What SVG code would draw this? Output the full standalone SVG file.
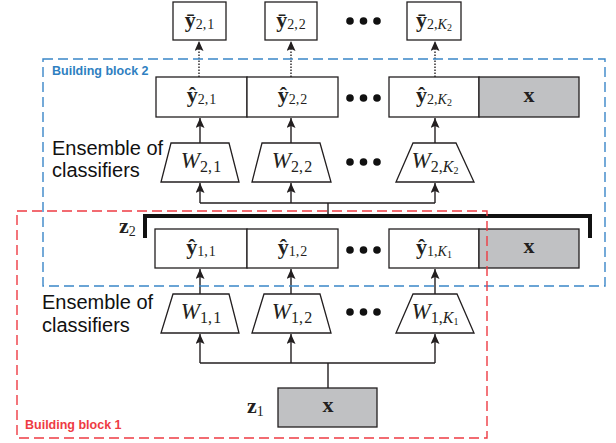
<svg xmlns="http://www.w3.org/2000/svg" width="616" height="443" viewBox="0 0 616 443">
<defs>
<style>
.box{fill:#fff;stroke:#231f20;stroke-width:1.3}
.gray{fill:#c0c1c3;stroke:#231f20;stroke-width:1.3}
.conn{fill:none;stroke:#231f20;stroke-width:1.4}
.dotted{stroke-dasharray:1.4 1.6}
.m{font-family:"Liberation Serif","DejaVu Serif",serif;fill:#231f20}
.yb{font-weight:bold;font-size:22px}
.xb{font-weight:bold;font-size:22px}
.w{font-style:italic;font-size:23px}
.s{font-size:14px;font-style:normal;font-weight:normal}
.sw{font-size:16px;font-style:normal}
.ss{font-size:10px;font-style:normal}
.it{font-style:italic}
.lbl{font-family:"Liberation Sans",Arial,sans-serif;font-size:20px;fill:#111}
.bb{font-family:"Liberation Sans",Arial,sans-serif;font-size:12.5px;font-weight:bold}
.dots circle{fill:#111}
</style>
<marker id="ah" markerUnits="userSpaceOnUse" markerWidth="10" markerHeight="10" refX="10" refY="4.5" orient="auto">
<path d="M0,0 L10,4.5 L0,9 L2,4.5 z" fill="#231f20"/>
</marker>
</defs>
<rect width="616" height="443" fill="#fff"/>

<g id="connectors">
<path class="conn dotted" d="M199,77 V41" marker-end="url(#ah)"/>
<path class="conn dotted" d="M291,77 V41" marker-end="url(#ah)"/>
<path class="conn dotted" d="M435,77 V41" marker-end="url(#ah)"/>
<path class="conn" d="M200,143 V118" marker-end="url(#ah)"/>
<path class="conn" d="M291,143 V118" marker-end="url(#ah)"/>
<path class="conn" d="M435,143 V118" marker-end="url(#ah)"/>
<path class="conn" d="M200,203 V183" marker-end="url(#ah)"/>
<path class="conn" d="M291,203 V183" marker-end="url(#ah)"/>
<path class="conn" d="M435,203 V183" marker-end="url(#ah)"/>
<path class="conn" d="M200,203 H435 M328,216 V203"/>
<path class="conn" d="M200,294 V269" marker-end="url(#ah)"/>
<path class="conn" d="M291,294 V269" marker-end="url(#ah)"/>
<path class="conn" d="M435,294 V269" marker-end="url(#ah)"/>
<path class="conn" d="M200,363 V334" marker-end="url(#ah)"/>
<path class="conn" d="M291,363 V334" marker-end="url(#ah)"/>
<path class="conn" d="M435,363 V334" marker-end="url(#ah)"/>
<path class="conn" d="M200,363 H435 M328,388 V363"/>
<path id="bracket" d="M145,238 V216 H590 V238" fill="none" stroke="#111" stroke-width="4"/>
</g>

<g id="ybar21"><rect class="box" x="173" y="2" width="53" height="38"/>
<text class="m" x="199.5" y="27" text-anchor="middle"><tspan class="yb">ȳ</tspan><tspan class="s" dy="2">2,&#8202;1</tspan></text></g>
<g id="ybar22"><rect class="box" x="265" y="2" width="52" height="38"/>
<text class="m" x="291" y="27" text-anchor="middle"><tspan class="yb">ȳ</tspan><tspan class="s" dy="2">2,&#8202;2</tspan></text></g>
<g id="ybar2K2"><rect class="box" x="407" y="2" width="54" height="38"/>
<text class="m" x="434" y="27" text-anchor="middle"><tspan class="yb">ȳ</tspan><tspan class="s" dy="2">2,</tspan><tspan class="s it">K</tspan><tspan class="ss" dy="2">2</tspan></text></g>
<g class="dots" id="dots-top"><circle cx="350" cy="21" r="3.8"/><circle cx="363.5" cy="21" r="3.8"/><circle cx="377" cy="21" r="3.8"/></g>

<g id="yhat21"><rect class="box" x="156" y="77" width="91" height="40"/>
<text class="m" x="201.5" y="102" text-anchor="middle"><tspan class="yb">ŷ</tspan><tspan class="s" dy="2">2,&#8202;1</tspan></text></g>
<g id="yhat22"><rect class="box" x="247" y="77" width="91" height="40"/>
<text class="m" x="292.5" y="102" text-anchor="middle"><tspan class="yb">ŷ</tspan><tspan class="s" dy="2">2,&#8202;2</tspan></text></g>
<g class="dots" id="dots-h2"><circle cx="350" cy="98" r="3.8"/><circle cx="363.5" cy="98" r="3.8"/><circle cx="377" cy="98" r="3.8"/></g>
<g id="yhat2K2"><rect class="box" x="389" y="77" width="90" height="40"/>
<text class="m" x="434" y="102" text-anchor="middle"><tspan class="yb">ŷ</tspan><tspan class="s" dy="2">2,</tspan><tspan class="s it">K</tspan><tspan class="ss" dy="2">2</tspan></text></g>
<g id="x2"><rect class="gray" x="479" y="77" width="100" height="40"/>
<text class="m xb" x="529" y="102" text-anchor="middle">x</text></g>

<g id="W21"><polygon class="box" points="171,143 229,143 239,182 161,182"/>
<text class="m" x="201" y="168" text-anchor="middle"><tspan class="w">W</tspan><tspan class="sw" dy="4">2,&#8202;1</tspan></text></g>
<g id="W22"><polygon class="box" points="262,143 320,143 331,182 252,182"/>
<text class="m" x="292" y="168" text-anchor="middle"><tspan class="w">W</tspan><tspan class="sw" dy="4">2,&#8202;2</tspan></text></g>
<g class="dots" id="dots-w2"><circle cx="350" cy="162" r="3.8"/><circle cx="363.5" cy="162" r="3.8"/><circle cx="377" cy="162" r="3.8"/></g>
<g id="W2K2"><polygon class="box" points="413,143 456,143 474,182 396,182"/>
<text class="m" x="435" y="168" text-anchor="middle"><tspan class="w">W</tspan><tspan class="sw" dy="4">2,</tspan><tspan class="sw it">K</tspan><tspan class="ss" dy="2">2</tspan></text></g>
<g id="ens2"><text class="lbl" x="52" y="155">Ensemble of</text><text class="lbl" x="52" y="177">classifiers</text></g>

<g id="z2"><text class="m" x="119" y="233"><tspan class="yb">z</tspan><tspan class="s" dy="3">2</tspan></text></g>

<g id="yhat11"><rect class="box" x="155" y="229" width="92" height="39"/>
<text class="m" x="201" y="254" text-anchor="middle"><tspan class="yb">ŷ</tspan><tspan class="s" dy="2">1,&#8202;1</tspan></text></g>
<g id="yhat12"><rect class="box" x="247" y="229" width="91" height="39"/>
<text class="m" x="292.5" y="254" text-anchor="middle"><tspan class="yb">ŷ</tspan><tspan class="s" dy="2">1,&#8202;2</tspan></text></g>
<g class="dots" id="dots-h1"><circle cx="350" cy="250" r="3.8"/><circle cx="363.5" cy="250" r="3.8"/><circle cx="377" cy="250" r="3.8"/></g>
<g id="yhat1K1"><rect class="box" x="389" y="229" width="90" height="39"/>
<text class="m" x="434" y="254" text-anchor="middle"><tspan class="yb">ŷ</tspan><tspan class="s" dy="2">1,</tspan><tspan class="s it">K</tspan><tspan class="ss" dy="2">1</tspan></text></g>
<g id="x1b"><rect class="gray" x="479" y="229" width="100" height="39"/>
<text class="m xb" x="529" y="253" text-anchor="middle">x</text></g>

<g id="W11"><polygon class="box" points="173,294 229,294 239,333 161,333"/>
<text class="m" x="201" y="319" text-anchor="middle"><tspan class="w">W</tspan><tspan class="sw" dy="4">1,&#8202;1</tspan></text></g>
<g id="W12"><polygon class="box" points="264,294 320,294 331,333 252,333"/>
<text class="m" x="292" y="319" text-anchor="middle"><tspan class="w">W</tspan><tspan class="sw" dy="4">1,&#8202;2</tspan></text></g>
<g class="dots" id="dots-w1"><circle cx="350" cy="312" r="3.8"/><circle cx="363.5" cy="312" r="3.8"/><circle cx="377" cy="312" r="3.8"/></g>
<g id="W1K1"><polygon class="box" points="413,294 457,294 474,333 396,333"/>
<text class="m" x="435" y="319" text-anchor="middle"><tspan class="w">W</tspan><tspan class="sw" dy="4">1,</tspan><tspan class="sw it">K</tspan><tspan class="ss" dy="2">1</tspan></text></g>
<g id="ens1"><text class="lbl" x="42" y="309">Ensemble of</text><text class="lbl" x="42" y="332">classifiers</text></g>

<g id="z1"><text class="m" x="247" y="413"><tspan class="yb">z</tspan><tspan class="s" dy="3">1</tspan></text></g>
<g id="x1"><rect class="gray" x="278" y="388" width="99" height="39"/>
<text class="m xb" x="328" y="412" text-anchor="middle">x</text></g>

<g id="block2"><rect x="43" y="59" width="562" height="227" fill="none" stroke="#3a86c8" stroke-width="1.4" stroke-dasharray="10 5"/>
<text class="bb" x="52" y="75" fill="#2f7fc1">Building block 2</text></g>
<g id="block1"><rect x="17" y="211" width="470" height="227" fill="none" stroke="#ee3b43" stroke-width="1.4" stroke-dasharray="10 5"/>
<text class="bb" x="25" y="429" fill="#ee3b43">Building block 1</text></g>
</svg>
